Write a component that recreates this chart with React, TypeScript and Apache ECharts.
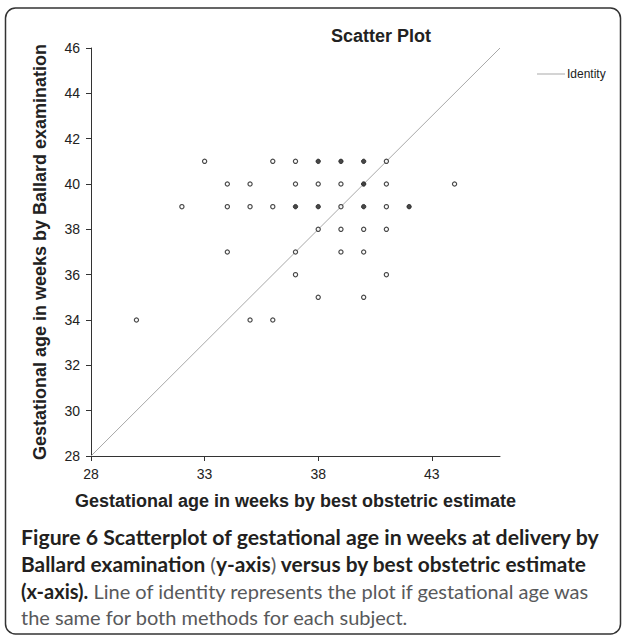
import React, { useEffect, useRef } from "react";
import * as echarts from "echarts";

// Observations: [best obstetric estimate (weeks), Ballard examination (weeks)]
const singlePoints: [number, number][] = [
  [33, 41], [36, 41], [37, 41], [41, 41],
  [34, 40], [35, 40], [37, 40], [38, 40], [39, 40], [41, 40], [44, 40],
  [32, 39], [34, 39], [35, 39], [36, 39], [39, 39], [41, 39],
  [38, 38], [39, 38], [40, 38], [41, 38],
  [34, 37], [37, 37], [39, 37], [40, 37],
  [37, 36], [41, 36],
  [38, 35], [40, 35],
  [30, 34], [35, 34], [36, 34],
];
// Overlapping (multiple subjects) points drawn dark
const densePoints: [number, number][] = [
  [38, 41], [39, 41], [40, 41],
  [40, 40],
  [37, 39], [38, 39], [40, 39], [42, 39],
];
const identityLine: [number, number][] = [[28, 28], [46, 46]];
const xTicks = [28, 33, 38, 43];
const yTicks = [28, 30, 32, 34, 36, 38, 40, 42, 44, 46];

const titleText = "Scatter Plot";
const xName = "Gestational age in weeks by best obstetric estimate";
const yName = "Gestational age in weeks by Ballard examination";

export default function App() {
  const ref = useRef<HTMLDivElement>(null);
  useEffect(() => {
    if (!ref.current) return;
    const chart = echarts.init(ref.current, undefined, { renderer: "svg" });
    const font = "'Liberation Sans', Arial, sans-serif";
    const capFont = "Lato, 'Open Sans', sans-serif";
    const dark = "#231f20";
    const grey = "#58595b";
    const capSize = 20;
    const bold = { fontFamily: capFont, fontSize: capSize, fontWeight: "bold", fill: dark };
    const reg = { fontFamily: capFont, fontSize: capSize, fontWeight: "normal", fill: grey };
    chart.setOption({
      animation: false,
      backgroundColor: "#fff",
      title: {
        text: titleText,
        left: 326,
        top: 22,
        textStyle: { fontFamily: font, fontSize: 18, fontWeight: "bold", color: "#222" },
      },
      legend: {
        data: [{ name: "Identity", icon: "rect" }],
        left: 532,
        top: 63,
        itemWidth: 28,
        itemHeight: 1,
        itemStyle: { color: "#a8a8a8" },
        textStyle: { fontFamily: font, fontSize: 12, color: "#222", padding: [0, 0, 0, -3] },
      },
      grid: { left: 91, right: 124, top: 48, bottom: 180 },
      xAxis: {
        type: "value",
        min: 28,
        max: 46,
        interval: 5,
        name: xName,
        nameLocation: "middle",
        nameGap: 36,
        nameTextStyle: { fontFamily: font, fontSize: 18, fontWeight: "bold", color: "#222" },
        axisLine: { lineStyle: { color: "#333", width: 1 } },
        axisTick: { show: true, length: 5, lineStyle: { color: "#333" }, customValues: xTicks },
        axisLabel: { fontFamily: font, fontSize: 14, color: "#222", margin: 11, customValues: xTicks },
        splitLine: { show: false },
      },
      yAxis: {
        type: "value",
        min: 28,
        max: 46,
        interval: 2,
        name: yName,
        nameLocation: "middle",
        nameGap: 42,
        nameTextStyle: { fontFamily: font, fontSize: 18, fontWeight: "bold", color: "#222" },
        axisLine: { show: true, lineStyle: { color: "#333", width: 1 } },
        axisTick: { show: true, length: 5, lineStyle: { color: "#333" }, customValues: yTicks },
        axisLabel: { fontFamily: font, fontSize: 14, color: "#222", margin: 11, customValues: yTicks },
        splitLine: { show: false },
      },
      series: [
        {
          name: "Identity",
          type: "line",
          data: identityLine,
          symbol: "none",
          lineStyle: { color: "#a8a8a8", width: 1 },
          itemStyle: { color: "#a8a8a8" },
          z: 1,
        },
        {
          name: "Subjects",
          type: "scatter",
          data: singlePoints,
          symbol: "circle",
          symbolSize: 4.2,
          itemStyle: { color: "#fff", borderColor: "#1a1a1a", borderWidth: 1.2 },
          z: 3,
        },
        {
          name: "Subjects (multiple)",
          type: "scatter",
          data: densePoints,
          symbol: "circle",
          symbolSize: 4.4,
          itemStyle: { color: "#1a1a1a", borderColor: "#1a1a1a", borderWidth: 1 },
          z: 3,
        },
      ],
      graphic: [
        {
          type: "rect",
          shape: { x: 5.5, y: 8, width: 615, height: 626, r: 10 },
          style: { fill: "none", stroke: "#333", lineWidth: 1.5 },
          silent: true,
        },
        {
          type: "text",
          x: 21,
          y: 527,
          scaleX: 1.064,
          style: {
            text: "{b|Figure 6 Scatterplot of gestational age in weeks at delivery by}",
            rich: { b: bold },
          },
        },
        {
          type: "text",
          x: 21,
          y: 554,
          scaleX: 1.044,
          style: {
            text: "{b|Ballard examination }{r|(}{b|y-axis}{r|)}{b| versus by best obstetric estimate}",
            rich: { b: bold, r: reg },
          },
        },
        {
          type: "text",
          x: 21,
          y: 581,
          scaleX: 1.0,
          style: {
            text: "{b|(x-axis).}{r| Line of identity represents the plot if gestational age was}",
            rich: { b: bold, r: reg },
          },
        },
        {
          type: "text",
          x: 21,
          y: 607,
          style: {
            text: "{r|the same for both methods for each subject.}",
            rich: { r: reg },
          },
        },
      ],
    });
    return () => chart.dispose();
  }, []);
  return (
    <div
      ref={ref}
      style={{ position: "absolute", left: 0, top: 0, width: 624, height: 636 }}
    />
  );
}
